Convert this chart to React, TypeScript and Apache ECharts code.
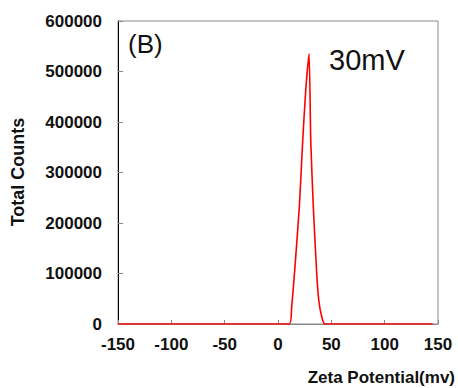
import React, { useEffect, useRef } from "react";
import * as echarts from "echarts";

const xValues = [-150, 10.6, 12.8, 15.9, 20.0, 23.2, 26.0, 29.1, 30.7, 33.1, 36.3, 38.2, 41.0, 44.0, 145];
const yValues = [0, 0, 34000, 113000, 232000, 364000, 463000, 535000, 364000, 232000, 100000, 47500, 14500, 0, 0];
const yTicks = [0, 100000, 200000, 300000, 400000, 500000, 600000];
const xTicks = [-150, -100, -50, 0, 50, 100, 150];
const panelLabel = "(B)";
const peakLabel = "30mV";
const xName = "Zeta Potential(mv)";
const yName = "Total Counts";

const FONT = "'Liberation Sans', Arial, sans-serif";

export default function App() {
  const ref = useRef<HTMLDivElement>(null);
  useEffect(() => {
    if (!ref.current) return;
    const chart = echarts.init(ref.current, null, { renderer: "svg" });
    chart.setOption({
      animation: false,
      backgroundColor: "#fff",
      grid: { left: 118, top: 21, right: 20, bottom: 64, show: true, borderColor: "#888", borderWidth: 1, containLabel: false },
      xAxis: {
        type: "value",
        min: xTicks[0],
        max: xTicks[xTicks.length - 1],
        interval: 50,
        axisLine: { show: true, onZero: false, lineStyle: { color: "#888", width: 1 } },
        axisTick: { show: true, inside: true, length: 4, lineStyle: { color: "#888" } },
        splitLine: { show: false },
        axisLabel: { color: "#111", fontFamily: FONT, fontWeight: "bold", fontSize: 17, margin: 12 },
      },
      yAxis: {
        type: "value",
        min: yTicks[0],
        max: yTicks[yTicks.length - 1],
        interval: 100000,
        axisLine: { show: true, onZero: false, lineStyle: { color: "#000", width: 1 } },
        axisTick: { show: true, inside: true, length: 5, lineStyle: { color: "#888" } },
        splitLine: { show: false },
        axisLabel: { color: "#111", fontFamily: FONT, fontWeight: "bold", fontSize: 17, margin: 16, formatter: (v: number) => String(v) },
      },
      series: [
        {
          type: "line",
          data: xValues.map((x, i) => [x, yValues[i]]),
          showSymbol: false,
          smooth: 0.2,
          lineStyle: { color: "#ff0000", width: 1.6 },
          z: 3,
        },
      ],
      graphic: [
        { type: "text", left: 128, top: 31, style: { text: panelLabel, fontFamily: FONT, fontSize: 26, fill: "#111" } },
        { type: "text", left: 329, top: 45, style: { text: peakLabel, fontFamily: FONT, fontSize: 29, fill: "#111" } },
        { type: "text", x: 18, y: 172, rotation: Math.PI / 2, style: { text: yName, fontFamily: FONT, fontWeight: "bold", fontSize: 18, fill: "#111", align: "center", verticalAlign: "middle" } },
        { type: "text", x: 455, y: 377, style: { text: xName, fontFamily: FONT, fontWeight: "bold", fontSize: 17, fill: "#111", align: "right", verticalAlign: "middle" } },
      ],
    });
    return () => chart.dispose();
  }, []);
  return <div ref={ref} style={{ position: "fixed", left: 0, top: 0, width: 458, height: 388 }} />;
}
